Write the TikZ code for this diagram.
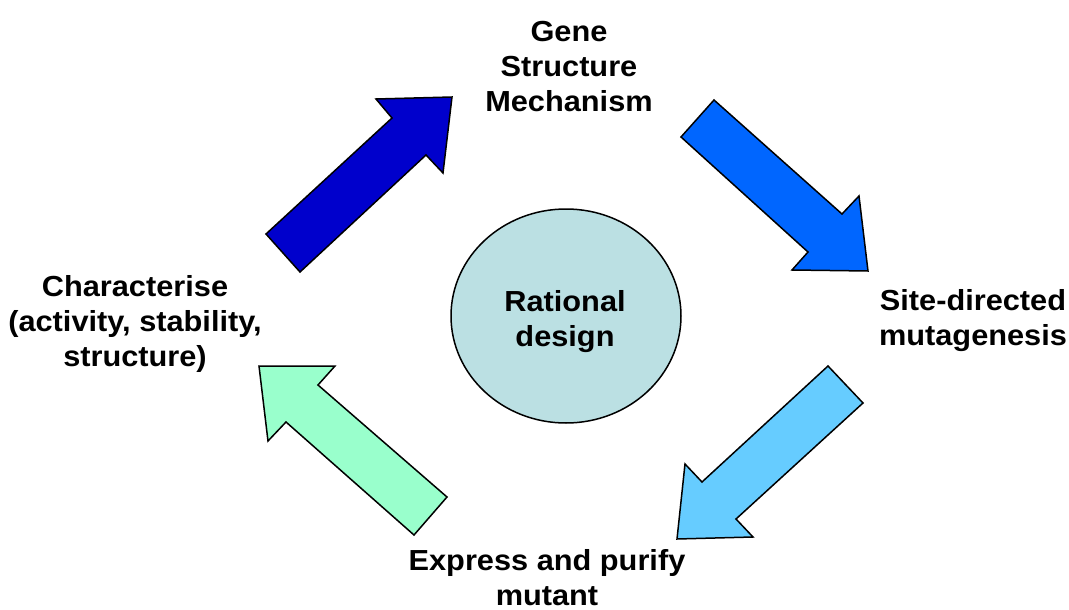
\documentclass[tikz,border=0pt]{standalone}
\usepackage{fontspec}
\usetikzlibrary{shapes.geometric}
\newfontfamily\lab[FakeStretch=1.06]{Liberation Sans}
\definecolor{arrowA}{RGB}{0,0,204}
\definecolor{arrowB}{RGB}{0,102,255}
\definecolor{arrowC}{RGB}{102,204,255}
\definecolor{arrowD}{RGB}{153,255,204}
\definecolor{corefill}{RGB}{187,224,227}
\begin{document}
\begin{tikzpicture}[x=1pt,y=-1pt,
  blockarrow/.style={draw=black,line width=1.5pt,line join=miter},
  lbl/.style={font=\lab\bfseries\fontsize{29}{35}\selectfont,align=center,inner sep=0pt}]
\path[use as bounding box] (0,0) rectangle (1069,610);
\fill[white] (0,0) rectangle (1069,610);
% block arrows
\draw[blockarrow,fill=arrowA] (266,234) -- (392,118) -- (376,99) -- (452,97) -- (443,173) -- (426,155) -- (300,272) -- cycle;
\draw[blockarrow,fill=arrowB] (714,100) -- (842,214) -- (859,196) -- (868,271) -- (792,270) -- (808,252) -- (681,137) -- cycle;
\draw[blockarrow,fill=arrowC] (828,366) -- (863,403) -- (736,519) -- (753,537) -- (677,539) -- (685,464) -- (702,482) -- cycle;
\draw[blockarrow,fill=arrowD] (259,366) -- (335,366) -- (318,385) -- (447,497) -- (414,535) -- (286,422) -- (268,441) -- cycle;
% centre
\node[ellipse,draw=black,line width=1.5pt,fill=corefill,minimum width=230pt,minimum height=214pt,inner sep=0pt] (core) at (566,316) {};
\node[lbl] (rd) at (565,322) {Rational\\design};
% labels
\node[lbl] (gene) at (569,67) {Gene\\Structure\\Mechanism};
\node[lbl] (site) at (973,321) {Site-directed\\mutagenesis};
\node[lbl] (expr) at (547,578) {Express and purify\\mutant};
\node[lbl] (char) at (135,324) {Characterise\\(activity, stability,\\structure)};
\end{tikzpicture}
\end{document}
